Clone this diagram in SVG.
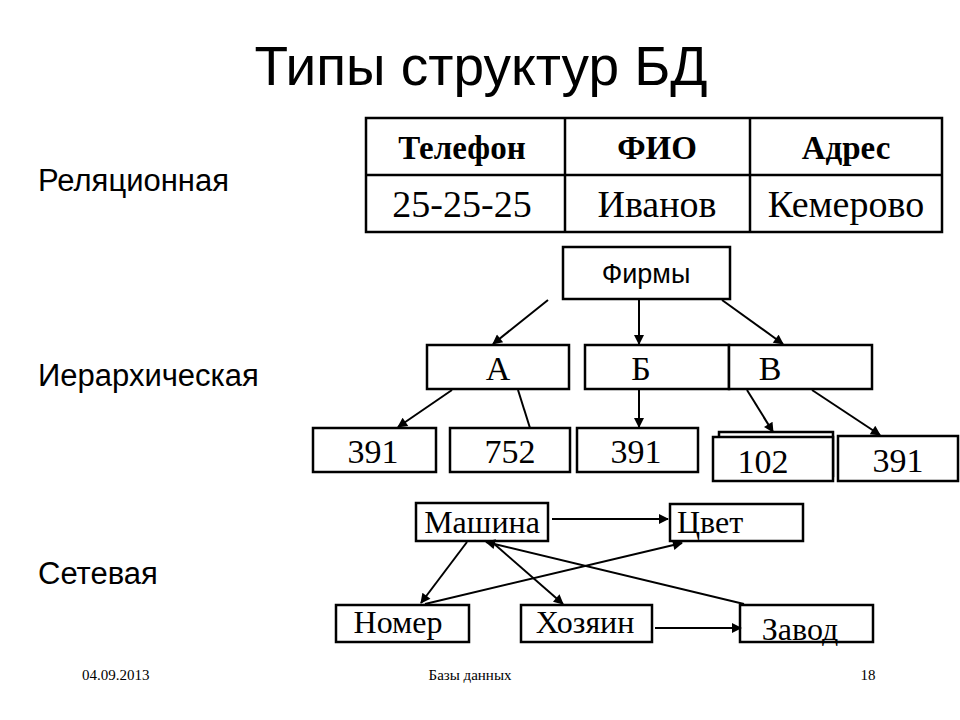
<svg xmlns="http://www.w3.org/2000/svg" width="960" height="720" viewBox="0 0 960 720">
<style>
text{font-family:"Liberation Serif","Times New Roman",serif;fill:#000}
.s{font-family:"Liberation Sans",Arial,sans-serif}
.b{fill:#fff;stroke:#000;stroke-width:2.5}
.t{text-anchor:middle}
.n{font-size:34px;text-anchor:middle}
.m{font-size:32px;text-anchor:middle}
.st{text-anchor:start}
.l{font-size:31px}
.c line{stroke:#000;stroke-width:2}
.f{font-size:15px}
</style>
<defs><marker id="a" viewBox="0 0 10 10" refX="9" refY="5" markerWidth="12" markerHeight="10" markerUnits="userSpaceOnUse" orient="auto"><path d="M0,0L10,5L0,10z" fill="#000"/></marker></defs>
<rect width="960" height="720" fill="#fff"/>
<text class="s" x="481" y="85" font-size="55" text-anchor="middle">Типы структур БД</text>
<text class="l s" x="38" y="191">Реляционная</text>
<text class="l s" x="38" y="386">Иерархическая</text>
<text class="l s" x="38" y="584">Сетевая</text>
<g id="table">
<rect class="b" x="366" y="118" width="576" height="114"/>
<line x1="366" y1="175" x2="942" y2="175" stroke="#000" stroke-width="2.5"/>
<line x1="565" y1="118" x2="565" y2="232" stroke="#000" stroke-width="2.5"/>
<line x1="750" y1="118" x2="750" y2="232" stroke="#000" stroke-width="2.5"/>
<text class="t" x="462" y="159" font-size="33" font-weight="bold">Телефон</text>
<text class="t" x="657" y="159" font-size="33" font-weight="bold">ФИО</text>
<text class="t" x="846" y="159" font-size="33" font-weight="bold">Адрес</text>
<text class="t" x="462" y="217" font-size="38">25-25-25</text>
<text class="t" x="657" y="217" font-size="38">Иванов</text>
<text class="t" x="846" y="217" font-size="38">Кемерово</text>
</g>
<g id="firms"><rect class="b" x="563" y="247" width="167" height="52"/><text class="s" x="646" y="283" font-size="27" text-anchor="middle">Фирмы</text></g>
<g id="A"><rect class="b" x="427" y="345" width="142" height="44"/><text class="n" x="498" y="380">А</text></g>
<g id="B1"><rect class="b" x="585" y="345" width="144" height="44"/><text class="n" x="641" y="380">Б</text></g>
<g id="V"><rect class="b" x="729" y="345" width="143" height="44"/><text class="n" x="770" y="380">В</text></g>
<g id="n391a"><rect class="b" x="313" y="428" width="123" height="44"/><text class="n" x="373" y="463">391</text></g>
<g id="n752"><rect class="b" x="450" y="428" width="120" height="44"/><text class="n" x="510" y="463">752</text></g>
<g id="n391b"><rect class="b" x="577" y="428" width="121" height="44"/><text class="n" x="636" y="463">391</text></g>
<g id="n102"><rect class="b" x="719" y="432" width="114" height="44"/><rect class="b" x="713" y="437" width="120" height="44"/><text class="n" x="763" y="473">102</text></g>
<g id="n391c"><rect class="b" x="838" y="436" width="120" height="45"/><text class="n" x="898" y="472">391</text></g>
<g id="car"><rect class="b" x="416" y="503" width="132" height="38"/><text class="m" x="482" y="533">Машина</text></g>
<g id="color"><rect class="b" x="670" y="504" width="133" height="37"/><text class="m st" x="677" y="533">Цвет</text></g>
<g id="num"><rect class="b" x="336" y="605" width="133" height="37"/><text class="m" x="398" y="633">Номер</text></g>
<g id="owner"><rect class="b" x="521" y="605" width="131" height="37"/><text class="m" x="585" y="633">Хозяин</text></g>
<g id="plant"><rect class="b" x="740" y="605" width="133" height="37"/><text class="m" x="800" y="640">Завод</text></g>
<g class="c">
<line x1="548" y1="300" x2="493" y2="344" marker-end="url(#a)"/>
<line x1="639" y1="300" x2="639" y2="344" marker-end="url(#a)"/>
<line x1="722" y1="300" x2="783" y2="344" marker-end="url(#a)"/>
<line x1="452" y1="390" x2="398" y2="427" marker-end="url(#a)"/>
<line x1="518" y1="390" x2="530" y2="428"/>
<line x1="639" y1="390" x2="639" y2="427" marker-end="url(#a)"/>
<line x1="747" y1="390" x2="773" y2="432" marker-end="url(#a)"/>
<line x1="812" y1="390" x2="880" y2="435" marker-end="url(#a)"/>
<line x1="552" y1="519" x2="668" y2="519" stroke-width="3" marker-end="url(#a)"/>
<line x1="467" y1="542" x2="421" y2="603" stroke-width="3" marker-end="url(#a)"/>
<line x1="492" y1="542" x2="563" y2="604" marker-end="url(#a)"/>
<line x1="425" y1="604" x2="682" y2="543" marker-end="url(#a)"/>
<line x1="744" y1="604" x2="486" y2="542" marker-end="url(#a)"/>
<line x1="655" y1="628" x2="741" y2="628" stroke-width="3" marker-end="url(#a)"/>
</g>
<text class="f" x="82" y="680">04.09.2013</text>
<text class="f" x="470" y="680" text-anchor="middle">Базы данных</text>
<text class="f" x="868" y="680" text-anchor="middle">18</text>
</svg>
